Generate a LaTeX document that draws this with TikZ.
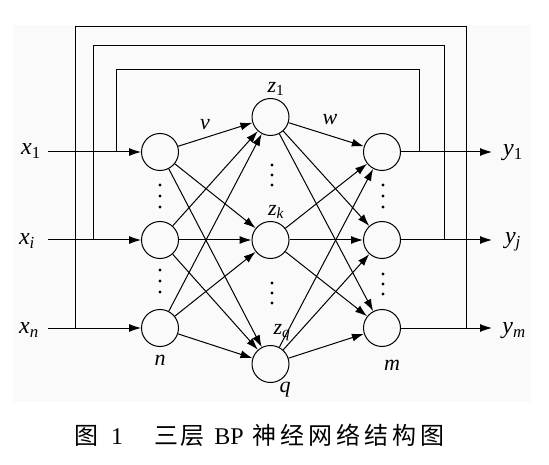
\documentclass[tikz,border=0pt]{standalone}
\usepackage{fontspec}
\setmainfont{Liberation Serif}
\newfontfamily\cjk{Noto Sans CJK SC}
\usetikzlibrary{arrows.meta}
\begin{document}
\begin{tikzpicture}[x=1pt,y=-1pt,
  neuron/.style={circle,draw,line width=1pt,minimum size=37pt,inner sep=0pt},
  conn/.style={line width=1pt,-{Latex[length=12pt,width=8pt]}},
  wire/.style={line width=1pt},
  dotmark/.style={circle,fill,inner sep=0pt,minimum size=3.4pt},
  lab/.style={font=\fontsize{24}{24}\selectfont\itshape,inner sep=0pt},
  slab/.style={font=\fontsize{22}{22}\selectfont\itshape,inner sep=0pt},
  captext/.style={font=\fontsize{24}{24}\selectfont,inner sep=0pt,anchor=base}]
\useasboundingbox (0,0) rectangle (549,465);
\fill[black!2] (13,25) rectangle (531,402);
% neurons
\node[neuron] (i1) at (160,152) {};
\node[neuron] (ii) at (160,240) {};
\node[neuron] (in) at (160,328) {};
\node[neuron] (h1) at (270.5,117) {};
\node[neuron] (hk) at (270.5,240) {};
\node[neuron] (hq) at (270.5,364) {};
\node[neuron] (o1) at (382,152) {};
\node[neuron] (oj) at (382,240) {};
\node[neuron] (om) at (382,328) {};
% input / output ends
\coordinate (s1) at (48,152);
\coordinate (si) at (48,240);
\coordinate (sn) at (48,328);
\coordinate (e1) at (492,152);
\coordinate (ej) at (492,240);
\coordinate (em) at (492,328);
\draw[conn] (s1) -- (i1);
\draw[conn] (si) -- (ii);
\draw[conn] (sn) -- (in);
\draw[conn] (o1) -- (e1);
\draw[conn] (oj) -- (ej);
\draw[conn] (om) -- (em);
% feedback loops
\coordinate (a1) at (419,152); \coordinate (a2) at (419,70);
\coordinate (a3) at (116,70);  \coordinate (a4) at (116,152);
\coordinate (b1) at (444,240); \coordinate (b2) at (444,46);
\coordinate (b3) at (93,46);   \coordinate (b4) at (93,240);
\coordinate (c1) at (466,328); \coordinate (c2) at (466,27);
\coordinate (c3) at (75,27);   \coordinate (c4) at (75,328);
\draw[wire] (a1) -- (a2) -- (a3) -- (a4);
\draw[wire] (b1) -- (b2) -- (b3) -- (b4);
\draw[wire] (c1) -- (c2) -- (c3) -- (c4);
% connections
\foreach \s in {i1,ii,in}{\foreach \t in {h1,hk,hq}{\draw[conn] (\s) -- (\t);}}
\foreach \s in {h1,hk,hq}{\foreach \t in {o1,oj,om}{\draw[conn] (\s) -- (\t);}}
% dots
\foreach \y in {185,196,207,270,281,292}{\node[dotmark] at (160,\y) {};}
\foreach \y in {185,196,207,274,284,294}{\node[dotmark] at (383,\y) {};}
\foreach \y in {165,175,185,283,293,303}{\node[dotmark] at (272,\y) {};}
% labels
\node[lab] (lx1) at (31,151) {x\textsubscript{\upshape 1}};
\node[lab] (lxi) at (27,241) {x\textsubscript{i}};
\node[lab] (lxn) at (29,330) {x\textsubscript{n}};
\node[lab] (ly1) at (513,153) {y\textsubscript{\upshape 1}};
\node[lab] (lyj) at (513,242) {y\textsubscript{j}};
\node[lab] (lym) at (514,331) {y\textsubscript{m}};
\node[slab] (lz1) at (276,89) {z\textsubscript{\upshape 1}};
\node[slab] (lzk) at (276,212) {z\textsubscript{k}};
\node[slab] (lzq) at (282,333) {z\textsubscript{q}};
\node[slab] (lv) at (205,125) {v};
\node[slab] (lw) at (330,120) {w};
\node[slab] (ln) at (160,360) {n};
\node[slab] (lq) at (285,390) {q};
\node[slab] (lm) at (392,365) {m};
% caption
\node[captext] (cp1) at (86,444) {\cjk 图};
\node[captext] (cp2) at (117,444) {1};
\node[captext] (cp3) at (166,444) {\cjk 三};
\node[captext] (cp4) at (192,444) {\cjk 层};
\node[captext] (cp5) at (229,444) {BP};
\node[captext] (cp6) at (264,444) {\cjk 神};
\node[captext] (cp7) at (292,444) {\cjk 经};
\node[captext] (cp8) at (320,444) {\cjk 网};
\node[captext] (cp9) at (348,444) {\cjk 络};
\node[captext] (cp10) at (376,444) {\cjk 结};
\node[captext] (cp11) at (404,444) {\cjk 构};
\node[captext] (cp12) at (432,444) {\cjk 图};
\end{tikzpicture}
\end{document}
